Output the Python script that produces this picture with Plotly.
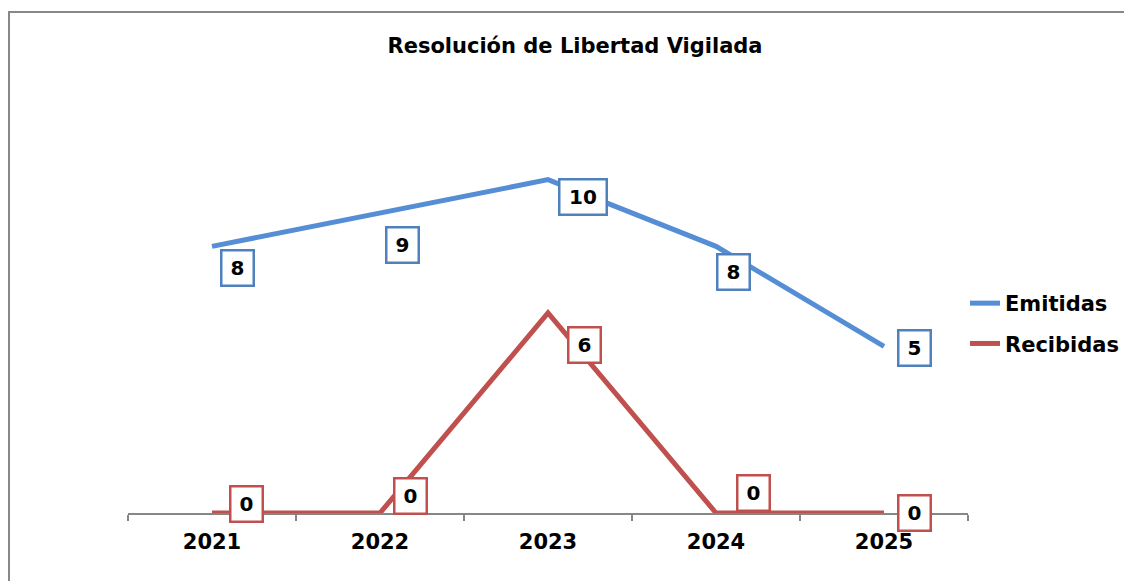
import plotly.graph_objects as go

years = ["2021", "2022", "2023", "2024", "2025"]
emitidas = [8, 9, 10, 8, 5]
recibidas = [0, 0, 6, 0, 0]
series_names = ["Emitidas", "Recibidas"]
title_text = "Resolución de Libertad Vigilada"

BLUE_LINE = "#558ED5"
BLUE_BOX = "#4F81BD"
RED_LINE = "#C0504D"
FONT = "Verdana, DejaVu Sans, sans-serif"

OFF = 8  # default page body margin
W, H = 1132 - OFF, 581 - OFF
L, R, T, B = 128 - OFF, 164, 113 - OFF, 68

fig = go.Figure()
fig.add_trace(go.Scatter(x=years, y=emitidas, mode="lines", name="<b>%s</b>" % series_names[0],
                         line=dict(color=BLUE_LINE, width=5), cliponaxis=False,
                         legendgroup="a"))
fig.add_trace(go.Scatter(x=years, y=recibidas, mode="lines", name="<b>%s</b>" % series_names[1],
                         line=dict(color=RED_LINE, width=5), cliponaxis=False,
                         legendgroup="b"))

# data label offsets (pixels) mimicking the hand-placed labels
emi_shift = [(25, -22), (22, -32), (35, -17), (17, -26), (30, -2)]
rec_shift = [(34, 9), (30, 17), (36, -32), (37, 20), (30, 0)]

def add_labels(vals, shifts, color):
    for i, (v, (dx, dy)) in enumerate(zip(vals, shifts)):
        txt = str(v)
        fig.add_annotation(x=i, y=v, xref="x", yref="y", text="<b>%s</b>" % txt,
                           showarrow=False, xshift=dx, yshift=dy,
                           font=dict(family=FONT, size=20, color="black"),
                           bgcolor="white", bordercolor=color, borderwidth=2.5,
                           borderpad=2, width=26 if len(txt) == 1 else 41, height=29,
                           xanchor="center", yanchor="middle")

add_labels(emitidas, emi_shift, BLUE_BOX)
add_labels(recibidas, rec_shift, RED_LINE)

# outer chart border (page pixel coordinates -> paper)
pw, ph = W - L - R, H - T - B
def px_x(px):
    return (px - OFF - L) / pw
def px_y(py):
    return (H - B - (py - OFF)) / ph
fig.add_shape(type="rect", xref="paper", yref="paper",
              x0=px_x(9), x1=px_x(1145), y0=px_y(600), y1=px_y(12),
              line=dict(color="#888888", width=2), fillcolor="rgba(0,0,0,0)", layer="below")

fig.update_layout(
    width=W, height=H,
    margin=dict(l=L, r=R, t=T, b=B, autoexpand=False),
    paper_bgcolor="white", plot_bgcolor="white",
    title=dict(text="<b>%s</b>" % title_text, x=(575 - OFF) / W, xref="container",
               xanchor="center", y=1 - (46 - OFF) / H, yanchor="middle",
               font=dict(family=FONT, size=21, color="black")),
    showlegend=True,
    legend=dict(x=px_x(965), y=px_y(283), xanchor="left", yanchor="top",
                font=dict(family=FONT, size=21, color="black"),
                bgcolor="rgba(0,0,0,0)", tracegroupgap=10,
                itemwidth=30),
    xaxis=dict(type="category", range=[-0.5, 4.5], showgrid=False,
               showline=True, linecolor="#868686", linewidth=1.5,
               ticks="outside", tickson="boundaries", ticklen=6, tickcolor="#868686",
               tickwidth=1.5, layer="below traces",
               tickfont=dict(family=FONT, size=21, color="black"),
               ticklabelstandoff=9, zeroline=False),
    yaxis=dict(range=[0, 12], visible=False, showgrid=False, zeroline=False),
)
fig.update_xaxes(tickvals=years, ticktext=["<b>%s</b>" % y for y in years])

fig.write_html("out.html")
